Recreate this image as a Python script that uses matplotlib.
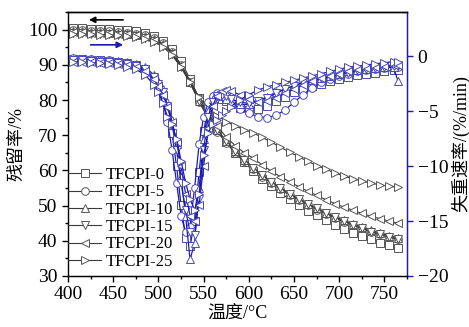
import matplotlib
matplotlib.use("Agg")
import matplotlib.pyplot as plt
from matplotlib.ticker import MultipleLocator

plt.rcParams['font.family'] = ['Liberation Serif', 'Noto Sans CJK SC', 'DejaVu Sans']
plt.rcParams['mathtext.fontset'] = 'stix'

# Data
labels = ["TFCPI-0", "TFCPI-5", "TFCPI-10", "TFCPI-15", "TFCPI-20", "TFCPI-25"]
markers = ["s", "o", "^", "v", "<", ">"]

# TG curves (left axis, residual mass %)
t_tg = [405, 415, 425, 435, 445, 455, 465, 475, 485, 495, 505, 515, 525, 535, 545,
        555, 565, 575, 585, 595, 605, 615, 625, 635, 645, 655, 665, 675, 685, 695,
        705, 715, 725, 735, 745, 755, 765]
tg_0 = [100.5, 100.4, 100.3, 100.2, 100.1, 100.0, 99.8, 99.5, 99.0, 98.2,
        96.8, 94.5, 91.0, 86.0, 80.5, 75.5, 71.5, 68.0, 65.0, 62.3,
        59.8, 57.5, 55.5, 53.6, 51.8, 50.1, 48.6, 47.2, 45.9, 44.6,
        43.4, 42.3, 41.3, 40.4, 39.5, 38.7, 38.0]
tg_5 = [99.8, 99.8, 99.7, 99.6, 99.5, 99.4, 99.2, 98.9, 98.4, 97.6,
        96.2, 93.8, 90.0, 85.0, 79.5, 74.8, 71.0, 67.8, 65.0, 62.6,
        60.3, 58.2, 56.3, 54.6, 53.0, 51.5, 50.1, 48.8, 47.6, 46.5,
        45.4, 44.4, 43.5, 42.6, 41.8, 41.1, 40.5]
tg_10 = [99.5, 99.5, 99.4, 99.3, 99.2, 99.1, 98.9, 98.6, 98.1, 97.3,
         95.9, 93.5, 89.8, 85.0, 79.8, 75.2, 71.5, 68.3, 65.5, 63.0,
         60.7, 58.6, 56.7, 55.0, 53.4, 51.9, 50.5, 49.2, 48.0, 46.9,
         45.8, 44.8, 43.9, 43.0, 42.2, 41.5, 40.9]
tg_15 = [99.0, 99.0, 98.9, 98.8, 98.7, 98.6, 98.4, 98.1, 97.6, 96.8,
         95.4, 93.0, 89.5, 84.8, 79.8, 75.3, 71.6, 68.4, 65.6, 63.1,
         60.8, 58.7, 56.8, 55.0, 53.4, 51.9, 50.5, 49.2, 47.9, 46.7,
         45.6, 44.5, 43.5, 42.6, 41.8, 41.1, 40.5]
tg_20 = [99.3, 99.3, 99.2, 99.1, 99.0, 98.9, 98.7, 98.4, 97.9, 97.1,
         95.8, 93.5, 90.0, 85.5, 80.6, 76.2, 72.5, 69.5, 67.0, 65.0,
         63.5, 61.5, 59.8, 58.2, 56.8, 55.4, 54.1, 52.9, 51.7, 50.6,
         49.6, 48.7, 47.8, 47.0, 46.3, 45.6, 45.0]
tg_25 = [98.8, 98.8, 98.7, 98.6, 98.5, 98.4, 98.2, 97.9, 97.4, 96.6,
         95.2, 92.8, 89.3, 85.0, 80.8, 77.8, 75.6, 73.9, 72.6, 71.6,
         70.6, 69.4, 68.0, 66.6, 65.2, 63.9, 62.6, 61.4, 60.3, 59.3,
         58.4, 57.6, 57.0, 56.4, 55.9, 55.5, 55.2]

# DTG curves (right axis, %/min)
t_dtg = [405, 415, 425, 435, 445, 455, 465, 475, 485, 495,
         500, 505, 510, 515, 520, 525, 530, 535, 540, 545, 550, 555, 560, 565, 570, 575, 580,
         590, 600, 610, 620, 630, 640, 650, 660, 670, 680, 690, 700, 710, 720, 730, 740, 750, 760,
         765]
dtg_0 = [-0.3, -0.3, -0.35, -0.4, -0.45, -0.5, -0.6, -0.8, -1.2, -2.0,
         -2.7, -3.6, -5.0, -7.0, -10.0, -13.5, -16.5, -17.3, -15.0, -10.5, -6.8, -4.8, -4.0, -3.8, -3.9, -4.1, -4.4,
         -4.7, -4.9, -4.8, -4.5, -4.1, -3.7, -3.3, -3.0, -2.7, -2.5, -2.3, -2.1, -1.9, -1.7, -1.6, -1.5, -1.4, -1.3,
         -1.3]
dtg_5 = [-0.2, -0.25, -0.3, -0.35, -0.4, -0.5, -0.6, -0.8, -1.3, -2.2,
         -3.0, -4.2, -6.0, -8.5, -11.5, -14.5, -16.0, -15.5, -12.0, -8.0, -5.5, -4.2, -3.6, -3.4, -3.5, -3.8, -4.2,
         -4.8, -5.2, -5.5, -5.6, -5.4, -4.9, -4.2, -3.5, -2.9, -2.4, -2.1, -1.8, -1.6, -1.4, -1.3, -1.2, -1.1, -1.0,
         -1.0]
dtg_10 = [-0.3, -0.3, -0.3, -0.35, -0.4, -0.45, -0.55, -0.7, -1.0, -1.7,
          -2.3, -3.0, -4.2, -5.8, -8.0, -11.0, -14.5, -18.5, -17.0, -12.0, -7.5, -5.0, -3.9, -3.5, -3.6, -3.9, -4.2,
          -4.4, -4.4, -4.1, -3.7, -3.3, -3.0, -2.7, -2.4, -2.2, -2.0, -1.8, -1.6, -1.4, -1.3, -1.2, -1.1, -1.0, -1.0,
          -2.3]
dtg_15 = [-0.4, -0.4, -0.45, -0.5, -0.55, -0.6, -0.7, -0.9, -1.2, -1.9,
          -2.5, -3.3, -4.5, -6.2, -8.5, -11.5, -14.0, -16.0, -16.3, -13.0, -8.5, -5.5, -4.2, -3.6, -3.5, -3.6, -3.9,
          -4.2, -4.3, -4.1, -3.8, -3.4, -3.0, -2.7, -2.4, -2.2, -2.0, -1.8, -1.6, -1.5, -1.3, -1.2, -1.1, -1.0, -0.9,
          -0.9]
dtg_20 = [-0.5, -0.5, -0.55, -0.6, -0.65, -0.7, -0.8, -1.0, -1.4, -2.1,
          -2.7, -3.5, -4.6, -6.0, -7.8, -10.0, -12.5, -14.5, -15.0, -13.5, -10.0, -6.5, -4.5, -3.6, -3.2, -3.1, -3.2,
          -3.5, -3.9, -4.2, -4.1, -3.8, -3.4, -3.0, -2.6, -2.3, -2.0, -1.8, -1.6, -1.4, -1.2, -1.1, -1.0, -0.9, -0.8,
          -0.8]
dtg_25 = [-0.5, -0.55, -0.6, -0.65, -0.7, -0.8, -0.95, -1.2, -1.7, -2.6,
          -3.3, -4.3, -5.5, -6.2, -7.5, -9.5, -11.5, -13.0, -14.0, -12.5, -9.0, -7.0, -6.2, -5.8, -5.4, -5.0, -4.6,
          -4.0, -3.5, -3.1, -2.8, -2.6, -2.4, -2.2, -2.0, -1.8, -1.6, -1.4, -1.2, -1.0, -0.9, -0.8, -0.7, -0.6, -0.5,
          -0.5]

tg_all = [tg_0, tg_5, tg_10, tg_15, tg_20, tg_25]
dtg_all = [dtg_0, dtg_5, dtg_10, dtg_15, dtg_20, dtg_25]

blue = "#1c1cb0"
gray = "#3a3a3a"

fig = plt.figure(figsize=(4.69, 3.27), dpi=100)
ax = fig.add_axes([0.145, 0.156, 0.723, 0.807])
ax2 = ax.twinx()

for y, m, lab in zip(tg_all, markers, labels):
    ax.plot(t_tg, y, color=gray, lw=0.8, marker=m, ms=5.5, mfc="white",
            mec="#555555", mew=0.7, label=lab)

for y, m in zip(dtg_all, markers):
    ax2.plot(t_dtg, y, color=blue, lw=0.9, marker=m, ms=5.5, mfc="white",
             mec="#4a4ab8", mew=0.7)

ax.set_xlim(400, 775)
ax.set_ylim(30, 105)
ax2.set_ylim(-20, 4)

ax.xaxis.set_major_locator(MultipleLocator(50))
ax.xaxis.set_minor_locator(MultipleLocator(25))
ax.yaxis.set_major_locator(MultipleLocator(10))
ax.yaxis.set_minor_locator(MultipleLocator(5))
ax2.yaxis.set_major_locator(MultipleLocator(5))
ax2.set_yticks([-20, -15, -10, -5, 0])

ax.tick_params(axis="both", which="major", direction="out", length=4, width=1, labelsize=14)
ax.tick_params(axis="both", which="minor", direction="out", length=2.5, width=1)
ax.tick_params(top=False, which="both")
ax2.tick_params(axis="y", which="major", direction="out", length=4, width=1,
                labelsize=14, color=blue)

for s in ["left", "bottom", "top"]:
    ax.spines[s].set_linewidth(1)
ax2.spines["right"].set_color(blue)
ax2.spines["right"].set_linewidth(1)
ax2.spines["left"].set_visible(False)
ax2.spines["top"].set_linewidth(1)

ax.set_xlabel("温度/°C", fontsize=13, labelpad=1)
ax.set_ylabel("残留率/%", fontsize=13, labelpad=2)
ax2.set_ylabel("失重速率/(%/min)", fontsize=13, labelpad=2)

# direction arrows
ax.annotate("", xy=(420, 102.8), xytext=(464, 102.8),
            arrowprops=dict(arrowstyle="-|>", color="black", lw=1.2, mutation_scale=9))
ax.annotate("", xy=(464, 95.7), xytext=(422, 95.7),
            arrowprops=dict(arrowstyle="-|>", color=blue, lw=1.2, mutation_scale=9))

leg = ax.legend(loc="center left", bbox_to_anchor=(0.0, 0.218), frameon=False,
                fontsize=12, handlelength=2.0, handletextpad=0.25,
                labelspacing=0.08, borderpad=0, borderaxespad=0)

fig.savefig("out.png", dpi=100)
